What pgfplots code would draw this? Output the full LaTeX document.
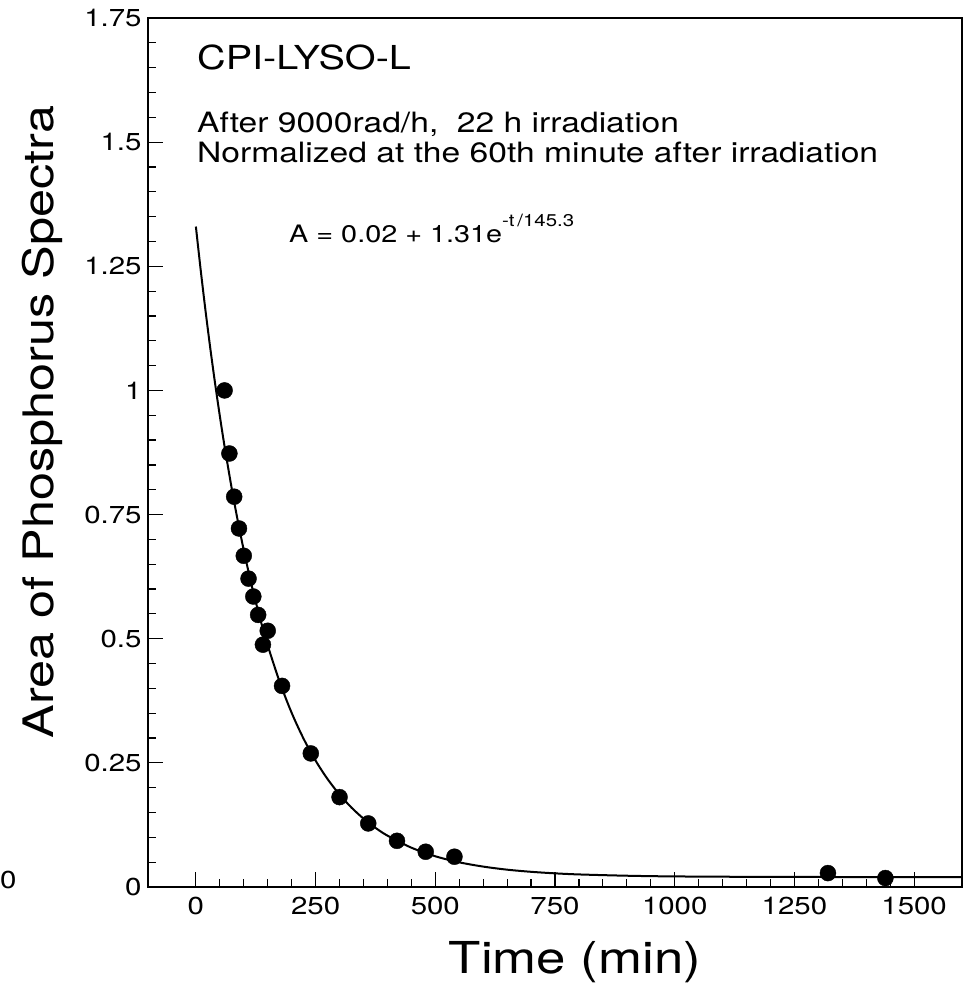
\documentclass[border=0pt]{standalone}
\usepackage{fontspec}
\setmainfont{TeX Gyre Heros}[FakeStretch=1.2]
\usepackage{pgfplots}
\pgfplotsset{compat=1.18}
\begin{document}
\begin{tikzpicture}
\begin{axis}[name=ax, scale only axis, width=814pt, height=869pt,
  xmin=-100, xmax=1600, ymin=0, ymax=1.75,
  xtick={0,250,500,750,1000,1250,1500},
  ytick={0,0.25,0.5,0.75,1,1.25,1.5,1.75},
  yticklabels={0,0.25,0.5,0.75,1,1.25,1.5,1.75},
  minor x tick num=4, minor y tick num=4,
  xtick pos=left, ytick pos=left,
  tick align=inside, major tick length=15pt, minor tick length=8pt,
  axis line style={line width=1.5pt},
  every tick/.style={line width=1.2pt, black},
  tick label style={font=\fontsize{24.5}{24.5}\selectfont},
  xticklabel style={yshift=-7pt},
  yticklabel style={xshift=-3pt},
  /pgf/number format/assume math mode=true,
  /pgf/number format/1000 sep={},
  clip=false]
\addplot[black, line width=2pt, smooth] coordinates {
(0,1.3300) (10,1.2429) (20,1.1615) (30,1.0856) (40,1.0148) (50,0.9486)
(60,0.8868) (75,0.8018) (87.5,0.7374) (100,0.6783) (112.5,0.6240)
(125,0.5742) (137.5,0.5285) (150,0.4866) (175,0.4129) (200,0.3508)
(225,0.2985) (250,0.2545) (275,0.2174) (300,0.1862) (325,0.1599)
(350,0.1378) (375,0.1192) (400,0.1035) (450,0.0792) (500,0.0619)
(550,0.0497) (600,0.0411) (650,0.0349) (700,0.0306) (750,0.0275)
(800,0.0253) (900,0.0227) (1000,0.0213) (1200,0.0203) (1400,0.0201)
(1600,0.0200)};
\addplot[only marks, mark=*, mark size=8pt, black] coordinates {
(60,1.000) (70,0.873) (80,0.786) (90,0.722) (100,0.667) (110,0.621)
(120,0.585) (130,0.548) (140,0.488) (150,0.516) (180,0.405)
(240,0.269) (300,0.181) (360,0.128) (420,0.093) (480,0.071)
(540,0.061) (1320,0.028) (1440,0.018)};
\end{axis}
\pgfresetboundingbox
\path[use as bounding box] ([shift={(-148pt,-115pt)}]ax.south west) rectangle ([shift={(9pt,18pt)}]ax.north east);
\node[anchor=base west, inner sep=0pt, font=\fontsize{33}{33}\selectfont] at ([shift={(49pt,817pt)}]ax.south west) {CPI-LYSO-L};
\node[anchor=base west, inner sep=0pt, font=\fontsize{28}{28}\selectfont] at ([shift={(49pt,754pt)}]ax.south west) {After 9000rad/h,\ \ 22 h irradiation};
\node[anchor=base west, inner sep=0pt, font=\fontsize{28}{28}\selectfont] at ([shift={(49pt,724pt)}]ax.south west) {Normalized at the 60th minute after irradiation};
\node[anchor=base west, inner sep=0pt, font=\fontsize{24}{24}\selectfont] at ([shift={(141pt,644pt)}]ax.south west) {A = 0.02 + 1.31e\raisebox{16pt}{\fontsize{17}{17}\selectfont -t\,/145.3}};
\node[anchor=base, inner sep=0pt, rotate=90, font=\fontsize{42}{42}\selectfont] at ([shift={(-94pt,465pt)}]ax.south west) {Area of Phosphorus Spectra};
\node[anchor=base, inner sep=0pt, font=\fontsize{44}{44}\selectfont] at ([shift={(427pt,-86pt)}]ax.south west) {Time (min)};
\node[anchor=base west, inner sep=0pt, font=\fontsize{24.5}{24.5}\selectfont] at ([shift={(-148pt,-1pt)}]ax.south west) {0};
\end{tikzpicture}
\end{document}
